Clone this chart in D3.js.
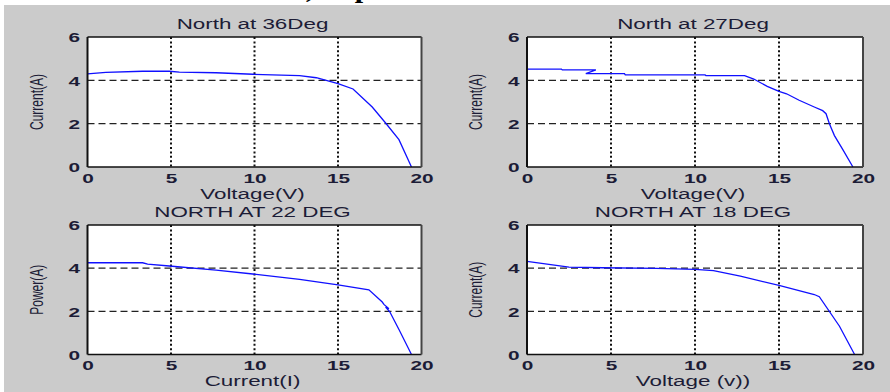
<!DOCTYPE html>
<html>
<head>
<meta charset="utf-8">
<script src="https://cdn.jsdelivr.net/npm/d3@7"></script>
<style>
  html, body { margin: 0; padding: 0; background: #fff; }
  svg { display: block; }
</style>
</head>
<body>
<div id="chart"></div>
<script>
'use strict';

// values
var xTicks = [0, 5, 10, 15, 20];
var yTicks = [0, 2, 4, 6];

var v36 = [0, 1.1, 3.3, 4.9, 5.5, 7.7, 9.9, 12.7, 13.7, 15.0, 15.9, 17.05, 17.85, 18.65, 19.4];
var i36 = [4.3, 4.37, 4.42, 4.42, 4.38, 4.35, 4.28, 4.22, 4.12, 3.85, 3.6, 2.77, 2.03, 1.26, 0];

var v27 = [0, 2.05, 2.1, 4.1, 3.5, 5.8, 5.85, 10.6, 10.65, 12.95, 13.5, 14.3, 15.0, 15.45, 16.2, 17.1, 17.6, 17.8, 18.0, 18.3, 18.8, 19.4];
var i27 = [4.52, 4.52, 4.48, 4.48, 4.31, 4.31, 4.25, 4.25, 4.22, 4.22, 4.06, 3.72, 3.49, 3.38, 3.08, 2.77, 2.6, 2.46, 2.0, 1.45, 0.8, 0];

var v22 = [0, 3.3, 3.6, 4.9, 7.7, 9.9, 12.7, 15.0, 16.85, 17.65, 17.75, 18.05, 17.85, 18.1, 18.65, 19.4];
var i22 = [4.25, 4.25, 4.19, 4.1, 3.91, 3.73, 3.48, 3.23, 3.0, 2.43, 2.32, 2.12, 2.2, 1.98, 1.16, 0];

var v18 = [0, 2.5, 4.5, 7.7, 10.0, 11.1, 12.7, 15.0, 17.1, 17.4, 18.6, 19.5];
var i18 = [4.31, 4.05, 4.02, 3.99, 3.94, 3.89, 3.63, 3.2, 2.78, 2.68, 1.31, 0];

var titles = ['North at 36Deg', 'North at 27Deg', 'NORTH AT 22 DEG', 'NORTH AT 18 DEG'];
var xLabels = ['Voltage(V)', 'Voltage(V)', 'Current(I)', 'Voltage (v))'];
var yLabels = ['Current(A)', 'Current(A)', 'Power(A)', 'Current(A)'];
var xs = [v36, v27, v22, v18];
var ys = [i36, i27, i22, i18];

var width = 890, height = 392;
var stretch = 1.6;
var textColor = '#1c1c36';
var font = '"Liberation Sans", Arial, sans-serif';

// plot boxes: [left, right, top, bottom]
var boxes = [
    [87.5, 421.5, 37, 167],
    [527, 863, 37, 167],
    [87.5, 421.5, 225, 354.5],
    [527, 863, 225, 354.5]
];

var svg = d3.select('#chart').append('svg')
    .attr('width', width).attr('height', height);

svg.append('rect')
    .attr('x', 4).attr('y', 5)
    .attr('width', width - 4).attr('height', height - 5)
    .attr('fill', '#cbcbcb');

// cut-off heading of the page above the figure (only descenders show)
svg.append('text')
    .attr('y', -3)
    .attr('font-family', '"Liberation Serif", "Times New Roman", serif')
    .attr('font-weight', 'bold')
    .attr('font-size', 30)
    .attr('fill', '#000')
    .call(function (t) {
        t.append('tspan').attr('x', 306).text(',');
        t.append('tspan').attr('x', 338).text('Sp');
    });

svg.append('rect')
    .attr('x', 4).attr('y', 5)
    .attr('width', width - 4).attr('height', 1)
    .attr('fill', '#cbcbcb');

var line = d3.line();

boxes.forEach(function (b, k) {
    var x = d3.scaleLinear().domain([0, 20]).range([b[0], b[1]]);
    var y = d3.scaleLinear().domain([0, 6]).range([b[3], b[2]]);

    var g = svg.append('g');

    g.append('rect')
        .attr('x', b[0]).attr('y', b[2])
        .attr('width', b[1] - b[0]).attr('height', b[3] - b[2])
        .attr('fill', '#fff');

    // grid
    g.selectAll('line.vgrid').data(xTicks.slice(1, -1)).enter().append('line')
        .attr('x1', function (d) { return x(d); })
        .attr('x2', function (d) { return x(d); })
        .attr('y1', b[2]).attr('y2', b[3])
        .attr('stroke', '#111').attr('stroke-width', 2)
        .attr('stroke-dasharray', '2,2.4');

    g.selectAll('line.hgrid').data(yTicks.slice(1, -1)).enter().append('line')
        .attr('y1', function (d) { return y(d); })
        .attr('y2', function (d) { return y(d); })
        .attr('x1', b[0]).attr('x2', b[1])
        .attr('stroke', '#222').attr('stroke-width', 1.2)
        .attr('stroke-dasharray', '7,4');

    // curve
    var pts = xs[k].map(function (v, i) { return [x(v), y(ys[k][i])]; });
    g.append('path')
        .attr('d', line(pts))
        .attr('fill', 'none')
        .attr('stroke', '#1010ff')
        .attr('stroke-width', 1.3);

    // box
    g.append('line').attr('x1', b[0]).attr('x2', b[1]).attr('y1', b[2]).attr('y2', b[2])
        .attr('stroke', '#111').attr('stroke-width', 1.4);
    g.append('line').attr('x1', b[0]).attr('x2', b[1]).attr('y1', b[3]).attr('y2', b[3])
        .attr('stroke', '#111').attr('stroke-width', 1.4);
    g.append('line').attr('x1', b[0]).attr('x2', b[0]).attr('y1', b[2]).attr('y2', b[3])
        .attr('stroke', '#111').attr('stroke-width', 2);
    g.append('line').attr('x1', b[1]).attr('x2', b[1]).attr('y1', b[2]).attr('y2', b[3])
        .attr('stroke', '#444').attr('stroke-width', 2);

    // axes (labels only)
    var ax = g.append('g')
        .attr('transform', 'translate(0,' + b[3] + ')')
        .call(d3.axisBottom(x).tickValues(xTicks).tickFormat(d3.format('d')).tickSize(0));
    ax.select('.domain').remove();
    ax.selectAll('text')
        .attr('y', 16).attr('dy', 0)
        .attr('transform', 'scale(' + stretch + ',1)')
        .attr('font-family', font).attr('font-weight', 'bold')
        .attr('font-size', 13).attr('fill', textColor);

    var ay = g.append('g')
        .attr('transform', 'translate(' + b[0] + ',0)')
        .call(d3.axisLeft(y).tickValues(yTicks).tickFormat(d3.format('d')).tickSize(0));
    ay.select('.domain').remove();
    ay.selectAll('text')
        .attr('x', -7.5 / stretch).attr('dy', '0.36em')
        .attr('transform', 'scale(' + stretch + ',1)')
        .attr('font-family', font).attr('font-weight', 'bold')
        .attr('font-size', 13).attr('fill', textColor);

    var cx = (b[0] + b[1]) / 2 - 2;

    g.append('text')
        .attr('transform', 'translate(' + cx + ',' + (b[2] - 8.5) + ') scale(' + stretch + ',1)')
        .attr('text-anchor', 'middle')
        .attr('font-family', font).attr('font-size', 14)
        .attr('fill', textColor)
        .text(titles[k]);

    g.append('text')
        .attr('transform', 'translate(' + cx + ',' + (b[3] + 31.5) + ') scale(' + stretch + ',1)')
        .attr('text-anchor', 'middle')
        .attr('font-family', font).attr('font-size', 14)
        .attr('fill', textColor)
        .text(xLabels[k]);

    g.append('text')
        .attr('transform', 'translate(' + (b[0] - 45) + ',' + ((b[2] + b[3]) / 2) + ') scale(' + stretch + ',1) rotate(-90)')
        .attr('text-anchor', 'middle')
        .attr('font-family', font).attr('font-size', 12)
        .attr('fill', textColor)
        .text(yLabels[k]);
});
</script>
</body>
</html>
